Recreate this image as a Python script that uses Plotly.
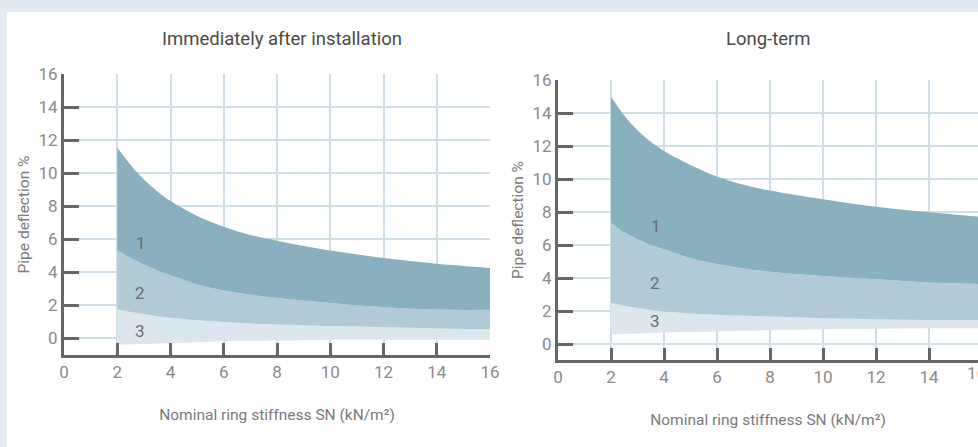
import plotly.graph_objects as go

# ---------------- data ----------------
sn = [2, 2.5, 3, 3.5, 4, 5, 6, 7, 8, 10, 12, 14, 16]

# Immediately after installation
imm_band1_top = [11.55, 10.5, 9.6, 8.9, 8.3, 7.4, 6.75, 6.25, 5.9, 5.3, 4.85, 4.5, 4.25]
imm_band2_top = [5.34, 4.85, 4.45, 4.1, 3.8, 3.25, 2.88, 2.62, 2.42, 2.12, 1.87, 1.72, 1.71]
imm_band3_top = [1.75, 1.58, 1.45, 1.32, 1.22, 1.07, 0.97, 0.88, 0.82, 0.72, 0.65, 0.58, 0.54]
imm_band3_bot = [-0.4, -0.38, -0.36, -0.33, -0.3, -0.25, -0.2, -0.17, -0.15, -0.1, -0.1, -0.1, -0.1]

# Long-term
lt_band1_top = [15.0, 13.85, 12.95, 12.25, 11.7, 10.85, 10.15, 9.65, 9.3, 8.77, 8.32, 7.98, 7.7]
lt_band2_top = [7.35, 6.75, 6.35, 6.0, 5.74, 5.2, 4.85, 4.58, 4.38, 4.12, 3.92, 3.72, 3.64]
lt_band3_top = [2.5, 2.32, 2.18, 2.06, 1.97, 1.85, 1.77, 1.71, 1.66, 1.56, 1.5, 1.45, 1.45]
lt_band3_bot = [0.59, 0.61, 0.63, 0.66, 0.69, 0.72, 0.76, 0.8, 0.84, 0.89, 0.93, 0.95, 0.95]

band_labels = ["1", "2", "3"]
imm_label_pos = [(2.9, 5.75), (2.85, 2.75), (2.85, 0.45)]
lt_label_pos = [(3.7, 7.15), (3.65, 3.7), (3.65, 1.4)]

titles = ["Immediately after installation", "Long-term"]
x_title = "Nominal ring stiffness SN (kN/m²)"
y_title = "Pipe deflection %"
tick_vals = [0, 2, 4, 6, 8, 10, 12, 14, 16]

# ---------------- style ----------------
FONT = "Roboto, 'DejaVu Sans', sans-serif"
C1, C2, C3 = "#88b0bf", "#b1cad5", "#dce6ed"
AXIS = "#666666"
GRID = "#cfdfe7"
TICKC = "#8a8a8a"
BG = "#e3ebf2"
W, H = 978, 447

fig = go.Figure()


def add_bands(xa, ya, bot, t3, t2, t1):
    common = dict(x=sn, mode="lines", line=dict(width=0, shape="spline", smoothing=1.0),
                  xaxis=xa, yaxis=ya, hoverinfo="skip", showlegend=False)
    fig.add_trace(go.Scatter(y=bot, **common))
    fig.add_trace(go.Scatter(y=t3, fill="tonexty", fillcolor=C3, **common))
    fig.add_trace(go.Scatter(y=t2, fill="tonexty", fillcolor=C2, **common))
    fig.add_trace(go.Scatter(y=t1, fill="tonexty", fillcolor=C1, **common))


add_bands("x", "y", imm_band3_bot, imm_band3_top, imm_band2_top, imm_band1_top)
add_bands("x2", "y2", lt_band3_bot, lt_band3_top, lt_band2_top, lt_band1_top)


def px_x(p):
    return p / W


def px_y(p):
    return 1 - p / H


axis_common = dict(
    showline=True, linecolor=AXIS, linewidth=3,
    ticks="inside", tickcolor=AXIS, tickwidth=3,
    showgrid=True, gridcolor=GRID, gridwidth=1.5,
    zeroline=False, automargin=False,
    tickfont=dict(family=FONT, size=17, color=TICKC),
    tickvals=tick_vals,
    title_font=dict(family=FONT, size=15.5, color="#7a7a7a"),
)

X2_PX0, X2_PX_PER_UNIT = 558, 26.5

fig.update_layout(
    width=W, height=H, autosize=False,
    margin=dict(l=0, r=0, t=0, b=0, pad=0),
    paper_bgcolor=BG,
    plot_bgcolor="rgba(0,0,0,0)",
    xaxis=dict(domain=[px_x(64), px_x(490)], range=[0, 16], anchor="y", ticklen=12,
               title=dict(text=x_title, standoff=28), **axis_common),
    yaxis=dict(domain=[px_y(355), px_y(74)], range=[-1.03, 16], anchor="x", ticklen=15,
               title=dict(text=y_title, standoff=6), **axis_common),
    xaxis2=dict(domain=[px_x(X2_PX0), 1.0], range=[0, (W - X2_PX0) / X2_PX_PER_UNIT],
                anchor="y2", ticklen=12,
                title=dict(text=x_title, standoff=28), **axis_common),
    yaxis2=dict(domain=[px_y(360), px_y(80)], range=[-0.97, 16], anchor="x2", ticklen=15,
                title=dict(text=y_title, standoff=6), **axis_common),
    shapes=[dict(type="rect", xref="paper", yref="paper", x0=px_x(7), x1=1.0,
                 y0=0, y1=px_y(12), fillcolor="white", line=dict(width=0), layer="below")],
)

annotations = []
for t, cx in zip(titles, [282, 768]):
    annotations.append(dict(text=t, xref="paper", yref="paper", x=px_x(cx), y=px_y(39),
                            xanchor="center", yanchor="middle", showarrow=False,
                            font=dict(family=FONT, size=18.5, color="#4a4a4a")))
for lab, (lx, ly) in zip(band_labels, imm_label_pos):
    annotations.append(dict(text=lab, xref="x", yref="y", x=lx, y=ly, showarrow=False,
                            xanchor="center", yanchor="middle",
                            font=dict(family=FONT, size=17, color="#6e6e6e")))
for lab, (lx, ly) in zip(band_labels, lt_label_pos):
    annotations.append(dict(text=lab, xref="x2", yref="y2", x=lx, y=ly, showarrow=False,
                            xanchor="center", yanchor="middle",
                            font=dict(family=FONT, size=17, color="#6e6e6e")))
# last tick label of the right axis, cut by the window edge as in the original
annotations.append(dict(text=str(tick_vals[-1]), xref="paper", yref="paper",
                        x=px_x(965), y=px_y(373),
                        showarrow=False, xanchor="left", yanchor="middle",
                        font=dict(family=FONT, size=17, color=TICKC)))
fig.update_layout(annotations=annotations)

fig.write_html(
    "out.html",
    config={"displayModeBar": False},
    post_script="document.body.style.margin='0';document.body.style.background='%s';" % BG,
)
